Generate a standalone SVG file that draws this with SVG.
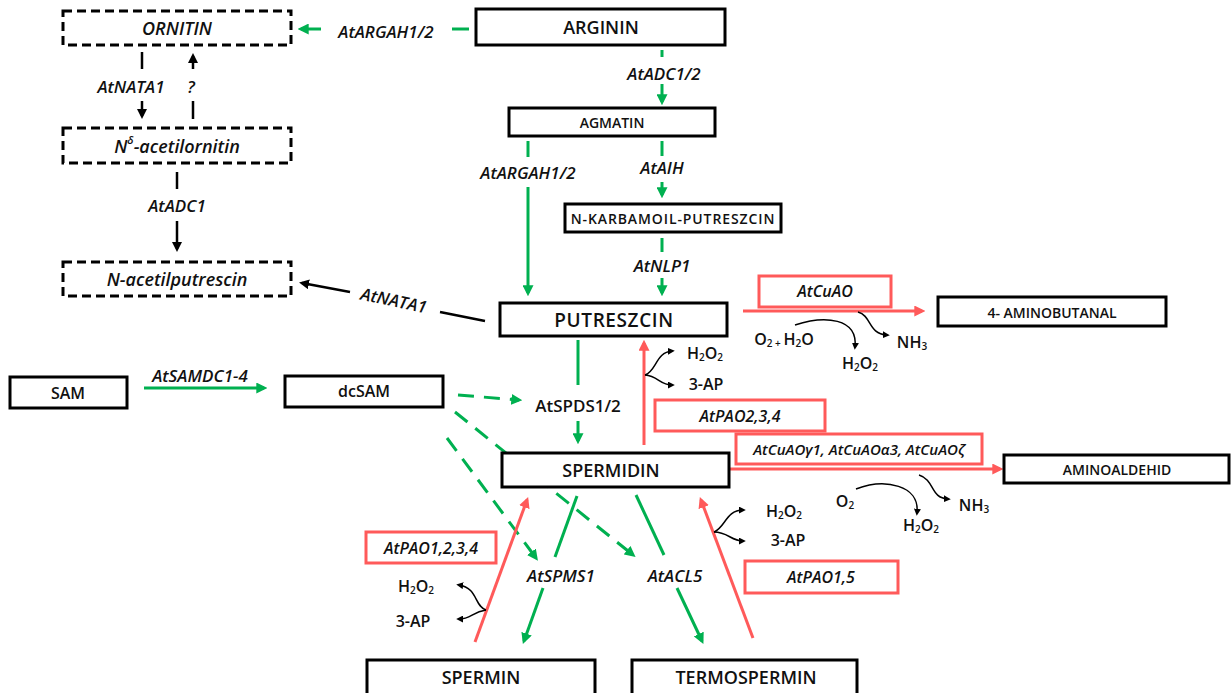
<svg xmlns="http://www.w3.org/2000/svg" width="1232" height="693" viewBox="0 0 1232 693">
<style>
text{font-family:"Open Sans","Liberation Sans",sans-serif;font-weight:600;fill:#111;text-anchor:middle;dominant-baseline:central}
.big{font-size:18px}
.mid{font-size:16px}
.sm{font-size:14px}
.it{font-style:italic}
.enz{font-size:17px;font-style:italic}
.rbox text{font-size:16px;font-style:italic}
.node rect{fill:#fff;stroke:#000;stroke-width:3}
.dashed rect{stroke-dasharray:9 5}
.rbox rect{fill:#fff;stroke:#FF5A5A;stroke-width:3}
.g{stroke:#00B050;stroke-width:3;fill:none}
.gd{stroke:#00B050;stroke-width:3;fill:none;stroke-dasharray:16 10}
.r{stroke:#FF5A5A;stroke-width:3;fill:none}
.k{stroke:#000;stroke-width:2.5;fill:none}
.c{stroke:#000;stroke-width:1.5;fill:none}
.chem{font-size:16px}
.sub{font-size:10px}
</style>
<defs>
<marker id="ag" viewBox="0 0 10 10" refX="7" refY="5" markerWidth="11" markerHeight="11" markerUnits="userSpaceOnUse" orient="auto"><path d="M0,0 L10,5 L0,10 z" fill="#00B050"/></marker>
<marker id="ar" viewBox="0 0 10 10" refX="7" refY="5" markerWidth="11" markerHeight="11" markerUnits="userSpaceOnUse" orient="auto"><path d="M0,0 L10,5 L0,10 z" fill="#FF5A5A"/></marker>
<marker id="ab" viewBox="0 0 10 10" refX="7" refY="5" markerWidth="10" markerHeight="10" markerUnits="userSpaceOnUse" orient="auto"><path d="M0,0 L10,5 L0,10 z" fill="#000"/></marker>
<marker id="ak" viewBox="0 0 10 10" refX="6" refY="5" markerWidth="7" markerHeight="7" markerUnits="userSpaceOnUse" orient="auto"><path d="M0,0 L10,5 L0,10 z" fill="#000"/></marker>
</defs>

<g id="connectors">
  <!-- green -->
  <line class="g" x1="452" y1="29" x2="469" y2="29"/>
  <line class="g" x1="321" y1="29" x2="301" y2="29" marker-end="url(#ag)"/>
  <line class="g" x1="662" y1="50" x2="662" y2="57"/>
  <line class="g" x1="662" y1="84" x2="662" y2="102" marker-end="url(#ag)"/>
  <line class="g" x1="528" y1="141" x2="528" y2="157"/>
  <line class="g" x1="528" y1="187" x2="528" y2="293" marker-end="url(#ag)"/>
  <line class="g" x1="662" y1="141" x2="662" y2="156"/>
  <line class="g" x1="662" y1="182" x2="662" y2="195" marker-end="url(#ag)"/>
  <line class="g" x1="662" y1="238" x2="662" y2="252"/>
  <line class="g" x1="662" y1="278" x2="662" y2="293" marker-end="url(#ag)"/>
  <line class="g" x1="578" y1="340" x2="578" y2="385"/>
  <line class="g" x1="578" y1="421" x2="578" y2="441" marker-end="url(#ag)"/>
  <line class="g" x1="144" y1="388" x2="264" y2="388" marker-end="url(#ag)"/>
  <line class="gd" x1="458" y1="395" x2="519" y2="400" marker-end="url(#ag)"/>
  <line class="gd" x1="455" y1="412" x2="633" y2="555" marker-end="url(#ag)"/>
  <line class="gd" x1="447" y1="438" x2="536" y2="558" marker-end="url(#ag)"/>
  <line class="g" x1="577" y1="496" x2="555" y2="557"/>
  <line class="g" x1="543" y1="588" x2="524" y2="641" marker-end="url(#ag)"/>
  <line class="g" x1="636" y1="495" x2="664" y2="555"/>
  <line class="g" x1="677" y1="588" x2="702" y2="641" marker-end="url(#ag)"/>
  <!-- red -->
  <line class="r" x1="475" y1="642" x2="527" y2="500" marker-end="url(#ar)"/>
  <line class="r" x1="753" y1="638" x2="701" y2="500" marker-end="url(#ar)"/>
  <line class="r" x1="644" y1="445" x2="644" y2="343" marker-end="url(#ar)"/>
  <line class="r" x1="743" y1="311" x2="922" y2="311" marker-end="url(#ar)"/>
  <line class="r" x1="729" y1="469" x2="1000" y2="469" marker-end="url(#ar)"/>
  <!-- black -->
  <line class="k" x1="142" y1="52" x2="142" y2="69"/>
  <line class="k" x1="142" y1="101" x2="142" y2="116" marker-end="url(#ab)"/>
  <line class="k" x1="193" y1="119" x2="193" y2="101"/>
  <line class="k" x1="193" y1="69" x2="193" y2="56" marker-end="url(#ab)"/>
  <line class="k" x1="177" y1="172" x2="177" y2="189"/>
  <line class="k" x1="177" y1="221" x2="177" y2="249" marker-end="url(#ab)"/>
  <line class="k" x1="485" y1="321" x2="440" y2="312"/>
  <line class="k" x1="350" y1="292" x2="302" y2="283" marker-end="url(#ab)"/>
  <!-- curly side products -->
  <path class="c" d="M645,375 C656,372 656,352 672,351" marker-end="url(#ak)"/>
  <path class="c" d="M645,375 C658,376 660,385 672,385" marker-end="url(#ak)"/>
  <path class="c" d="M714,532 C725,528 726,510 743,510" marker-end="url(#ak)"/>
  <path class="c" d="M714,532 C728,532 731,541 743,541" marker-end="url(#ak)"/>
  <path class="c" d="M486,610 C474,606 478,588 459,585" marker-end="url(#ak)"/>
  <path class="c" d="M486,610 C472,612 471,619 459,619" marker-end="url(#ak)"/>
  <path class="c" d="M795,325 C825,315 858,318 855,347" marker-end="url(#ak)"/>
  <path class="c" d="M858,312 C872,316 868,334 887,335" marker-end="url(#ak)"/>
  <path class="c" d="M856,489 C885,478 920,485 917,513" marker-end="url(#ak)"/>
  <path class="c" d="M919,475 C935,480 930,498 948,499" marker-end="url(#ak)"/>
</g>

<g id="labels">
  <text class="enz" x="386" y="31">AtARGAH1/2</text>
  <text class="enz" x="131" y="86">AtNATA1</text>
  <text class="enz" x="191" y="86">?</text>
  <text class="enz" x="177" y="205">AtADC1</text>
  <text class="enz" x="664" y="73">AtADC1/2</text>
  <text class="enz" x="528" y="172">AtARGAH1/2</text>
  <text class="enz" x="662" y="167">AtAIH</text>
  <text class="enz" x="662" y="265">AtNLP1</text>
  <text class="enz" x="394" y="300" transform="rotate(12 394 300)">AtNATA1</text>
  <text class="enz" x="200" y="375">AtSAMDC1-4</text>
  <text class="big" x="578" y="405" style="font-size:17px">AtSPDS1/2</text>
  <text class="enz" x="561" y="575">AtSPMS1</text>
  <text class="enz" x="675" y="575">AtACL5</text>
  <text class="chem" x="784" y="339">O<tspan class="sub" dy="4">2</tspan><tspan class="sub" dy="0"> + </tspan><tspan dy="-4">H</tspan><tspan class="sub" dy="4">2</tspan><tspan dy="-4">O</tspan></text>
  <text class="chem" x="860" y="363">H<tspan class="sub" dy="4">2</tspan><tspan dy="-4">O</tspan><tspan class="sub" dy="4">2</tspan></text>
  <text class="chem" x="912" y="342">NH<tspan class="sub" dy="4">3</tspan></text>
  <text class="chem" x="705" y="353">H<tspan class="sub" dy="4">2</tspan><tspan dy="-4">O</tspan><tspan class="sub" dy="4">2</tspan></text>
  <text class="chem" x="706" y="384">3-AP</text>
  <text class="chem" x="845" y="501">O<tspan class="sub" dy="4">2</tspan></text>
  <text class="chem" x="921" y="525">H<tspan class="sub" dy="4">2</tspan><tspan dy="-4">O</tspan><tspan class="sub" dy="4">2</tspan></text>
  <text class="chem" x="974" y="505">NH<tspan class="sub" dy="4">3</tspan></text>
  <text class="chem" x="784" y="511">H<tspan class="sub" dy="4">2</tspan><tspan dy="-4">O</tspan><tspan class="sub" dy="4">2</tspan></text>
  <text class="chem" x="788" y="540">3-AP</text>
  <text class="chem" x="416" y="586">H<tspan class="sub" dy="4">2</tspan><tspan dy="-4">O</tspan><tspan class="sub" dy="4">2</tspan></text>
  <text class="chem" x="413" y="621">3-AP</text>
</g>

<g id="ORNITIN" class="node dashed"><rect x="63" y="11" width="228" height="34"/><text class="big it" x="177" y="28">ORNITIN</text></g>
<g id="N-acetilornitin" class="node dashed"><rect x="63" y="128" width="228" height="35"/><text class="big it" x="177" y="146">N<tspan font-size="11" dy="-7">δ</tspan><tspan dy="7">-acetilornitin</tspan></text></g>
<g id="N-acetilputrescin" class="node dashed"><rect x="63" y="262" width="228" height="34"/><text class="big it" x="177" y="279">N-acetilputrescin</text></g>
<g id="ARGININ" class="node"><rect x="476" y="9" width="249" height="36"/><text class="big" x="601" y="27">ARGININ</text></g>
<g id="AGMATIN" class="node"><rect x="509" y="108" width="206" height="28"/><text class="sm" x="612" y="122">AGMATIN</text></g>
<g id="N-KARBAMOIL-PUTRESZCIN" class="node"><rect x="565" y="204" width="216" height="28"/><text class="sm" x="673" y="218" style="letter-spacing:0.9px">N-KARBAMOIL-PUTRESZCIN</text></g>
<g id="PUTRESZCIN" class="node"><rect x="500" y="303" width="227" height="33"/><text class="big" x="614" y="320" style="font-size:19px;letter-spacing:0.6px">PUTRESZCIN</text></g>
<g id="AMINOBUTANAL" class="node"><rect x="938" y="297" width="228" height="29"/><text class="sm" x="1052" y="312">4- AMINOBUTANAL</text></g>
<g id="SAM" class="node"><rect x="10" y="377" width="117" height="31"/><text class="mid" x="68" y="393">SAM</text></g>
<g id="dcSAM" class="node"><rect x="285" y="376" width="158" height="31"/><text class="mid" x="364" y="391">dcSAM</text></g>
<g id="SPERMIDIN" class="node"><rect x="502" y="453" width="227" height="34"/><text class="big" x="611" y="470">SPERMIDIN</text></g>
<g id="AMINOALDEHID" class="node"><rect x="1004" y="455" width="225" height="28"/><text class="sm" x="1117" y="469">AMINOALDEHID</text></g>
<g id="SPERMIN" class="node"><rect x="367" y="660" width="228" height="40"/><text class="big" x="481" y="677">SPERMIN</text></g>
<g id="TERMOSPERMIN" class="node"><rect x="632" y="660" width="225" height="40"/><text class="big" x="746" y="677">TERMOSPERMIN</text></g>

<g id="AtCuAO" class="rbox"><rect x="759" y="276" width="132" height="31"/><text x="825" y="291">AtCuAO</text></g>
<g id="AtPAO234" class="rbox"><rect x="655" y="400" width="170" height="31"/><text x="740" y="416">AtPAO2,3,4</text></g>
<g id="AtCuAOs" class="rbox"><rect x="736" y="434" width="246" height="30"/><text x="859" y="449" style="font-size:15px">AtCuAOγ1, AtCuAOα3, AtCuAOζ</text></g>
<g id="AtPAO15" class="rbox"><rect x="745" y="561" width="153" height="32"/><text x="821" y="577">AtPAO1,5</text></g>
<g id="AtPAO1234" class="rbox"><rect x="366" y="532" width="130" height="31"/><text x="431" y="548">AtPAO1,2,3,4</text></g>
</svg>
